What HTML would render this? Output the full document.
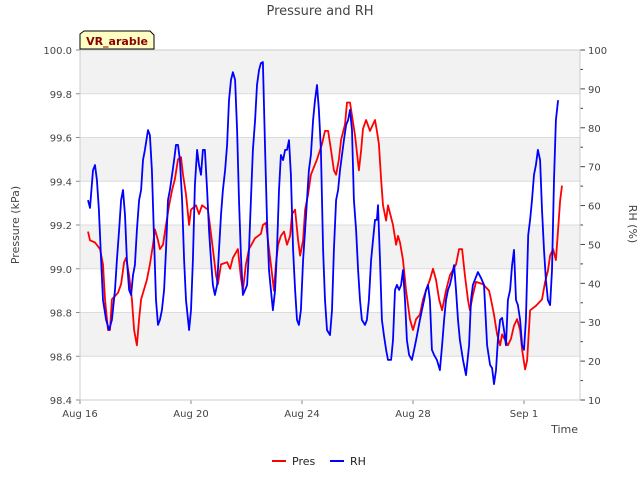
<!DOCTYPE html>
<html><head><meta charset="utf-8"><style>
body{margin:0;background:#fff;}
svg text{font-family:"DejaVu Sans","Liberation Sans",sans-serif;}
</style></head><body>
<svg id="chart" width="640" height="480" viewBox="0 0 640 480" xmlns="http://www.w3.org/2000/svg">
<text x="320" y="15" text-anchor="middle" font-size="13" fill="#444">Pressure and RH</text>
<g id="bands"></g>
<g id="axes"></g>
<g id="series"></g>
<text x="19" y="225" font-size="11" fill="#444" text-anchor="middle" transform="rotate(-90 19 225)">Pressure (kPa)</text>
<text x="629" y="224" font-size="11" fill="#444" text-anchor="middle" transform="rotate(90 629 224)">RH (%)</text>
<text x="578" y="433" font-size="11" fill="#444" text-anchor="end">Time</text>
<g>
<path d="M80,34 L84,31 L150,31 L154,35 L154,49 L80,49 Z" fill="#ffffc4" stroke="#000" stroke-width="1"/>
<text x="117" y="45" text-anchor="middle" font-size="11" font-weight="bold" fill="#8b0000">VR_arable</text>
</g>
<g>
<g><line x1="272" y1="461" x2="286" y2="461" stroke="#f00" stroke-width="2"/><text x="292" y="465" font-size="11" fill="#222">Pres</text></g>
<g><line x1="330" y1="461" x2="344" y2="461" stroke="#00f" stroke-width="2"/><text x="350" y="465" font-size="11" fill="#222">RH</text></g>
</g>
</svg>
<script>
const presDays=[0.29,0.36,0.54,0.72,0.83,0.90,1.01,1.08,1.15,1.37,1.48,1.59,1.66,1.77,1.87,1.95,2.05,2.13,2.20,2.41,2.52,2.63,2.70,2.81,2.88,2.99,3.10,3.21,3.32,3.42,3.53,3.64,3.71,3.82,3.93,4.00,4.18,4.29,4.40,4.61,4.68,4.79,4.90,4.97,5.08,5.30,5.41,5.51,5.69,5.80,5.87,5.98,6.09,6.31,6.52,6.59,6.70,6.81,6.88,6.99,7.06,7.14,7.24,7.35,7.46,7.57,7.64,7.75,7.86,7.93,8.04,8.11,8.22,8.32,8.54,8.72,8.83,8.94,9.05,9.15,9.23,9.33,9.41,9.55,9.62,9.73,9.80,9.91,10.05,10.13,10.20,10.31,10.45,10.63,10.70,10.77,10.85,10.92,11.03,11.10,11.28,11.39,11.46,11.53,11.64,11.75,11.89,12.00,12.11,12.25,12.36,12.47,12.61,12.72,12.83,12.94,13.05,13.19,13.33,13.55,13.66,13.77,13.87,13.98,14.05,14.16,14.27,14.52,14.74,14.81,14.92,15.03,15.14,15.21,15.42,15.53,15.64,15.75,15.86,15.93,16.04,16.11,16.22,16.43,16.65,16.76,16.86,16.94,17.05,17.15,17.23,17.30,17.37];
const presValues=[99.17,99.13,99.12,99.09,99.02,98.86,98.72,98.72,98.86,98.89,98.93,99.03,99.05,98.97,98.86,98.72,98.65,98.77,98.86,98.95,99.02,99.11,99.18,99.13,99.09,99.11,99.20,99.29,99.36,99.41,99.50,99.51,99.43,99.34,99.20,99.27,99.29,99.25,99.29,99.27,99.20,99.09,98.97,98.93,99.02,99.03,99.00,99.05,99.09,98.96,98.90,99.02,99.09,99.14,99.16,99.20,99.21,99.09,99.02,98.90,99.02,99.11,99.15,99.17,99.11,99.15,99.25,99.27,99.13,99.06,99.13,99.27,99.34,99.43,99.50,99.57,99.63,99.63,99.54,99.45,99.43,99.50,99.59,99.66,99.76,99.76,99.70,99.61,99.45,99.54,99.64,99.68,99.63,99.68,99.63,99.57,99.41,99.29,99.22,99.29,99.20,99.11,99.15,99.12,99.04,98.90,98.77,98.72,98.77,98.79,98.86,98.90,98.95,99.00,98.95,98.86,98.81,98.90,98.97,99.02,99.09,99.09,98.97,98.86,98.81,98.88,98.94,98.93,98.90,98.86,98.79,98.70,98.65,98.70,98.65,98.68,98.74,98.77,98.72,98.63,98.54,98.58,98.81,98.83,98.86,98.94,98.99,99.06,99.09,99.04,99.18,99.31,99.38];
const rhDays=[0.29,0.36,0.47,0.54,0.61,0.68,0.76,0.83,0.94,1.05,1.15,1.26,1.33,1.41,1.48,1.55,1.62,1.69,1.77,1.84,1.91,1.98,2.05,2.13,2.20,2.27,2.34,2.45,2.52,2.59,2.67,2.74,2.81,2.88,2.95,3.03,3.10,3.17,3.24,3.32,3.39,3.46,3.53,3.60,3.68,3.75,3.82,3.93,4.00,4.07,4.14,4.22,4.29,4.36,4.43,4.50,4.58,4.65,4.72,4.79,4.86,4.94,5.01,5.08,5.15,5.23,5.30,5.37,5.44,5.51,5.59,5.66,5.73,5.80,5.87,5.95,6.02,6.09,6.16,6.23,6.31,6.38,6.45,6.52,6.59,6.67,6.74,6.81,6.88,6.95,7.03,7.10,7.17,7.24,7.32,7.39,7.46,7.53,7.60,7.68,7.75,7.82,7.89,7.96,8.04,8.11,8.18,8.25,8.32,8.40,8.47,8.54,8.61,8.68,8.76,8.83,8.90,9.01,9.08,9.15,9.23,9.30,9.37,9.44,9.51,9.59,9.66,9.73,9.80,9.87,9.95,10.02,10.09,10.16,10.27,10.34,10.41,10.49,10.56,10.63,10.70,10.74,10.81,10.88,10.95,11.03,11.10,11.21,11.28,11.35,11.42,11.50,11.57,11.64,11.71,11.78,11.86,11.96,12.04,12.11,12.18,12.25,12.32,12.40,12.47,12.54,12.61,12.68,12.76,12.86,12.97,13.05,13.12,13.19,13.26,13.33,13.41,13.48,13.55,13.62,13.69,13.80,13.91,14.02,14.09,14.16,14.23,14.34,14.45,14.56,14.67,14.78,14.85,14.92,14.99,15.06,15.14,15.21,15.28,15.35,15.42,15.50,15.57,15.64,15.71,15.78,15.86,15.93,16.00,16.07,16.15,16.22,16.29,16.36,16.43,16.50,16.58,16.65,16.72,16.79,16.86,16.94,17.01,17.08,17.15,17.23];
const rhValues=[61.4,59.4,69.1,70.4,66.6,58.9,46.0,35.7,30.6,28.0,30.6,38.3,46.0,53.7,61.4,64.0,57.6,46.0,38.3,37.0,42.1,44.7,53.7,61.4,64.0,71.7,74.3,79.4,78.1,69.1,51.1,35.7,29.3,30.6,33.1,38.3,48.6,61.4,64.0,67.9,71.7,75.6,75.6,71.7,61.4,46.0,35.7,28.0,33.1,46.0,65.3,74.3,70.4,67.9,74.3,74.3,64.0,53.7,46.0,39.6,37.0,39.6,48.6,57.6,64.0,69.1,75.6,87.1,92.3,94.3,92.3,79.4,61.4,47.3,37.0,38.3,39.6,48.6,61.4,74.3,82.0,91.0,94.8,96.6,96.9,74.3,56.3,43.4,38.3,33.1,38.3,48.6,64.0,73.0,71.7,74.3,74.3,76.8,67.9,48.6,38.3,30.6,29.3,33.1,46.0,53.7,61.4,69.1,73.0,82.0,87.1,91.0,84.6,74.3,48.6,35.7,28.0,26.7,33.1,48.6,61.4,64.0,69.1,73.0,76.8,80.7,82.0,84.6,79.4,61.4,53.7,43.4,35.7,30.6,29.3,30.6,35.7,46.0,51.1,56.3,56.3,60.1,46.0,30.6,26.7,22.9,20.3,20.3,25.4,38.3,39.6,38.3,39.6,43.4,35.7,25.4,21.6,20.3,22.9,25.4,28.0,30.6,33.1,35.7,38.3,39.6,35.7,22.9,21.6,20.3,17.7,24.1,30.6,35.7,38.3,39.6,42.1,44.7,38.3,30.6,25.4,20.3,16.4,24.1,35.7,39.6,40.9,42.9,41.4,39.6,24.1,19.0,18.2,14.1,17.7,25.4,30.6,31.1,28.0,24.1,35.7,38.3,44.7,48.6,35.7,34.4,30.6,24.1,22.9,30.6,52.4,56.3,61.4,67.9,70.4,74.3,71.7,58.9,48.6,40.9,35.7,34.4,43.4,66.6,82.0,87.1];
const xTickDays=[0,4,8,12,16];
const xTickLabels=["Aug 16","Aug 20","Aug 24","Aug 28","Sep 1"];
const presTicks=[98.4,98.6,98.8,99.0,99.2,99.4,99.6,99.8,100.0];
const rhTicks=[10,20,30,40,50,60,70,80,90,100];

const L=80,R=580,T=50,B=400;
const xScale=d=>L+d*27.75;
const yP=v=>B-(v-98.4)/1.6*(B-T);
const yR=v=>B-(v-10)/90*(B-T);
const NS="http://www.w3.org/2000/svg";
function mk(tag,attrs,parent){const e=document.createElementNS(NS,tag);for(const k in attrs)e.setAttribute(k,attrs[k]);parent.appendChild(e);return e;}
const bands=document.getElementById('bands'),axes=document.getElementById('axes'),series=document.getElementById('series');
mk('rect',{x:L,y:T,width:R-L,height:B-T,fill:'#fff'},bands);
for(let i=0;i<presTicks.length-1;i++){
  const y1=yP(presTicks[i+1]),y2=yP(presTicks[i]);
  if(i%2===1){const r=mk('rect',{x:L,y:y1,width:R-L,height:y2-y1,fill:'#f2f2f2'},bands);
  
  }
}
presTicks.forEach(v=>{const y=yP(v);
  mk('line',{x1:L,x2:R,y1:y,y2:y,stroke:'#dcdcdc','stroke-width':1},bands);
  mk('line',{x1:L-4,x2:L,y1:y,y2:y,stroke:'#888'},axes);
  const t=mk('text',{x:L-8,y:y+4,'text-anchor':'end','font-size':10,fill:'#444'},axes);
  
  
  t.textContent=v.toFixed(1);});
rhTicks.forEach(v=>{const y=yR(v);
  mk('line',{x1:R,x2:R+5,y1:y,y2:y,stroke:'#444'},axes);
  if(v<100)mk('line',{x1:R,x2:R+3,y1:yR(v+5),y2:yR(v+5),stroke:'#444'},axes);
  const t=mk('text',{x:R+8,y:y+4,'font-size':10,fill:'#444'},axes);
  
  
  t.textContent=v;});
xTickDays.forEach((d,i)=>{const x=xScale(d);
  mk('line',{x1:x,x2:x,y1:B,y2:B+4,stroke:'#888'},axes);
  const t=mk('text',{x:x,y:B+17,'text-anchor':'middle','font-size':10,fill:'#444'},axes);
  
  
  t.textContent=xTickLabels[i];});
mk('rect',{x:L,y:T,width:R-L,height:B-T,fill:'none',stroke:'#ccc'},axes);
const pPts=presDays.map((d,i)=>xScale(d).toFixed(1)+','+yP(presValues[i]).toFixed(1)).join(' ');
const pl=mk('polyline',{points:pPts,fill:'none',stroke:'#f00','stroke-width':1.8,'stroke-linejoin':'round'},series);


const rPts=rhDays.map((d,i)=>xScale(d).toFixed(1)+','+yR(rhValues[i]).toFixed(1)).join(' ');
const rl=mk('polyline',{points:rPts,fill:'none',stroke:'#00f','stroke-width':1.8,'stroke-linejoin':'round'},series);


</script>
</body></html>
